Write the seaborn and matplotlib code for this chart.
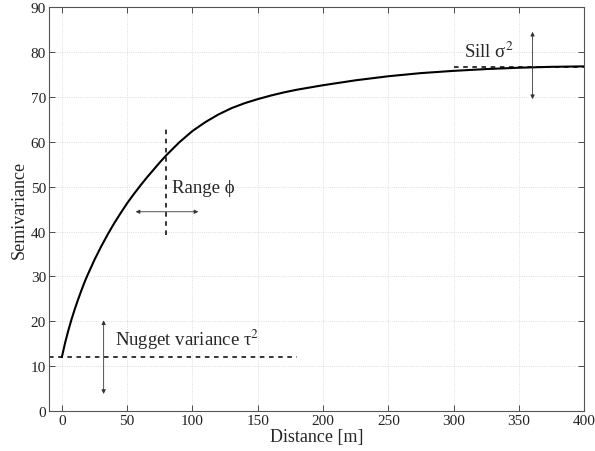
import matplotlib
matplotlib.use("Agg")
import matplotlib.pyplot as plt
import seaborn as sns

# semivariogram curve
distance = [0, 2.5, 5, 7.5, 10, 12.5, 15, 17.5, 20, 25, 30, 35, 40, 45, 50,
            55, 60, 65, 70, 75, 80, 90, 100, 110, 120, 130, 140, 150, 160,
            170, 180, 190, 200, 225, 250, 275, 300, 325, 350, 375, 400]
semivariance = [12.0, 15.2, 18.0, 20.5, 22.8, 24.9, 26.9, 28.8, 30.5, 33.7,
                36.6, 39.3, 41.8, 44.1, 46.3, 48.3, 50.2, 52.0, 53.7, 55.4,
                57.0, 59.9, 62.4, 64.4, 66.1, 67.5, 68.6, 69.5, 70.3, 71.0,
                71.6, 72.1, 72.6, 73.7, 74.6, 75.3, 75.8, 76.2, 76.5, 76.7,
                76.8]

nugget = 12.0
sill = 76.7
range_phi = 80

x_ticks = [0, 50, 100, 150, 200, 250, 300, 350, 400]
y_ticks = [0, 10, 20, 30, 40, 50, 60, 70, 80, 90]

sns.set_style("ticks")
plt.rcParams["font.family"] = ["Liberation Serif", "DejaVu Serif"]
plt.rcParams["mathtext.fontset"] = "stix"

fig = plt.figure(figsize=(5.95, 4.52), dpi=100)
ax = fig.add_axes([0.082, 0.0885, 0.9, 0.8935])

sns.lineplot(x=distance, y=semivariance, ax=ax, color="black", lw=1.5)

arrow_style = dict(arrowstyle="<|-|>", lw=0.6, color="#333333",
                   mutation_scale=6, shrinkA=0, shrinkB=0)

# nugget
ax.plot([-10, 180], [nugget, nugget], ls=(0, (3, 3)), color="black", lw=1.1)
ax.annotate("", xy=(32, 3.8), xytext=(32, 20.2), arrowprops=arrow_style)
ax.text(40.5, 13.4, "Nugget variance τ$^2$", fontsize=13.5, va="bottom")

# range
ax.plot([range_phi, range_phi], [39.3, 63.4], ls=(0, (3, 3)), color="black", lw=1.1)
ax.annotate("", xy=(56.5, 44.4), xytext=(104.5, 44.4), arrowprops=arrow_style)
ax.text(84.5, 49.7, "Range ϕ", fontsize=13.5, va="center")

# sill
ax.plot([300, 400], [sill, sill], ls=(0, (3, 3)), color="black", lw=1.1)
ax.annotate("", xy=(360.4, 69.5), xytext=(360.4, 84.5), arrowprops=arrow_style)
ax.text(308, 80.2, "Sill σ$^2$", fontsize=13.5, va="center")

ax.set_xlim(-10, 400)
ax.set_ylim(0, 90)
ax.set_xticks(x_ticks)
ax.set_yticks(y_ticks)
ax.grid(True, color="#d4d4d4", lw=0.6, ls=":")
ax.tick_params(direction="in", length=4, width=0.6, top=True, right=True,
               labelsize=11, colors="#333333", labelcolor="#222222", pad=2)
for side in ax.spines.values():
    side.set_visible(True)
    side.set_color("#555555")
    side.set_linewidth(0.8)

ax.set_xlabel("Distance [m]", fontsize=13, labelpad=1)
ax.set_ylabel("Semivariance", fontsize=13, labelpad=2)

fig.savefig("out.png", dpi=100)
